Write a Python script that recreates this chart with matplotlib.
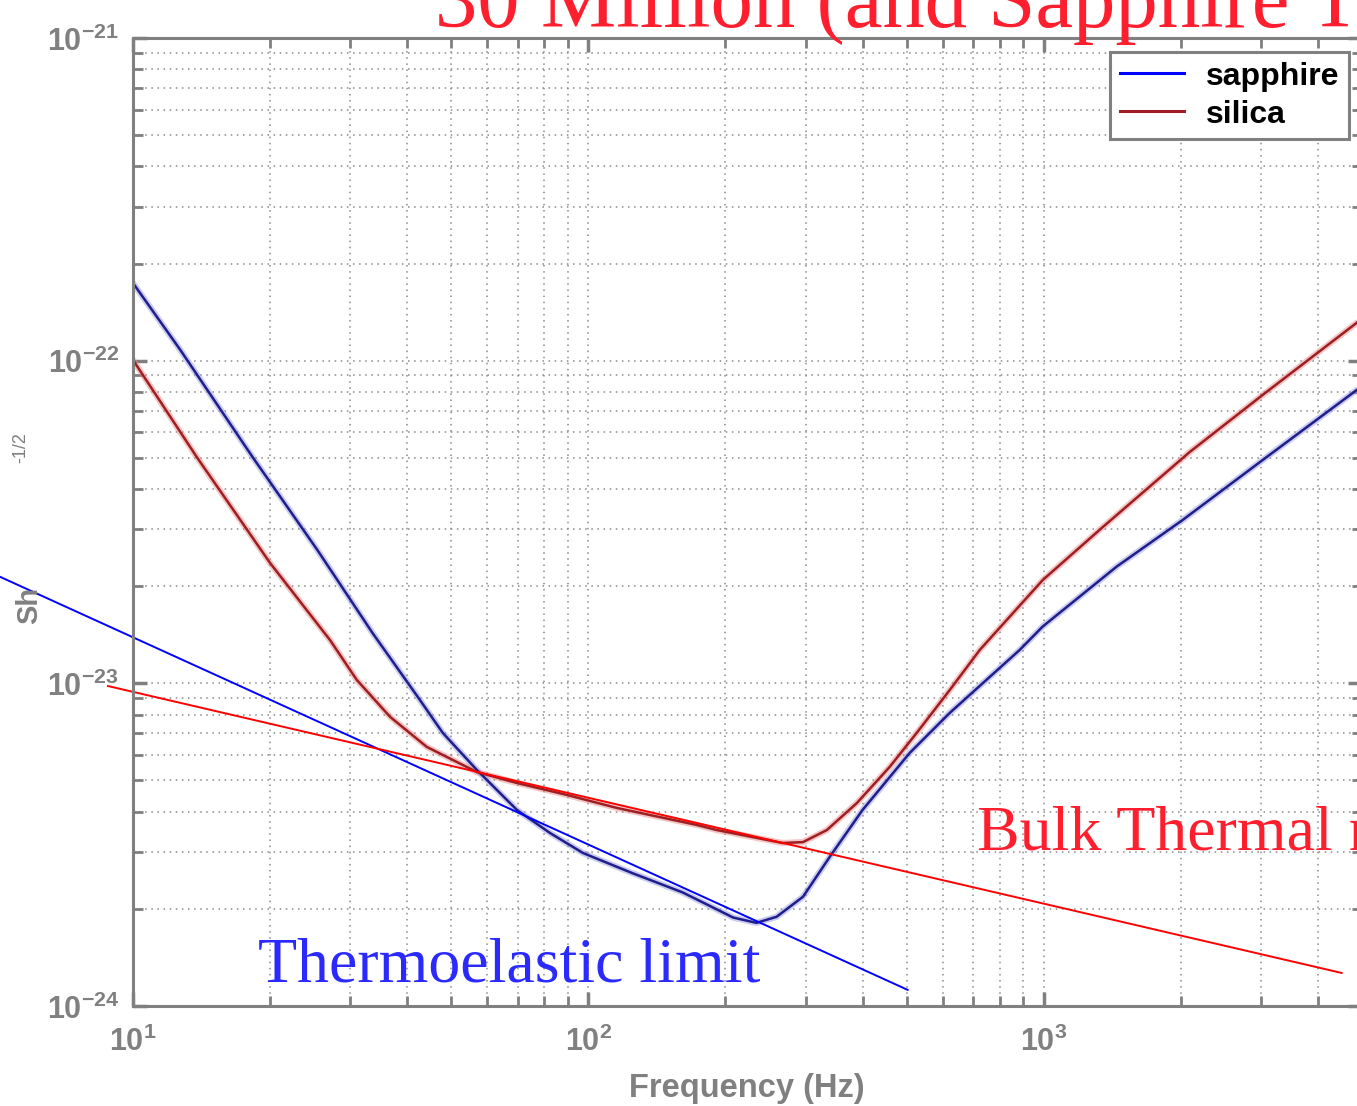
import matplotlib
matplotlib.use("Agg")
import matplotlib.pyplot as plt
from matplotlib.ticker import LogLocator, NullFormatter, FixedLocator, FixedFormatter
from matplotlib.lines import Line2D

plt.rcParams['mathtext.fontset'] = 'custom'
plt.rcParams['mathtext.rm'] = 'Liberation Sans:bold'
plt.rcParams['mathtext.it'] = 'Liberation Sans:bold'
plt.rcParams['mathtext.bf'] = 'Liberation Sans:bold'
plt.rcParams['mathtext.default'] = 'rm'

# ---- data ----
sapphire_f = [10, 12.7, 18.3, 25.4, 33.6, 42.2, 47.9, 56.9, 69.7, 82.3, 97.3, 125, 161,
              208, 234, 259, 296, 339, 400, 508, 622, 886, 995, 1446, 2020, 3025, 4867]
sapphire_s = [1.74e-22, 1.08e-22, 5.03e-23, 2.59e-23, 1.43e-23, 9.08e-24, 7.02e-24, 5.39e-24,
              4.05e-24, 3.44e-24, 2.98e-24, 2.58e-24, 2.25e-24, 1.88e-24, 1.81e-24, 1.89e-24,
              2.18e-24, 2.90e-24, 4.05e-24, 6.09e-24, 8.10e-24, 1.27e-23, 1.50e-23, 2.30e-23,
              3.21e-23, 4.92e-23, 8.11e-23]

silica_f = [10, 13.8, 20.0, 27.1, 31.0, 36.7, 44.2, 56.9, 69.7, 89.7, 115.5, 173, 191.5,
            267, 296, 334, 389, 459, 526, 622, 724, 995, 1348, 2092, 3025, 4867]
silica_s = [1.005e-22, 5.03e-23, 2.36e-23, 1.36e-23, 1.025e-23, 7.87e-24, 6.35e-24, 5.31e-24,
            4.91e-24, 4.51e-24, 4.11e-24, 3.64e-24, 3.51e-24, 3.20e-24, 3.22e-24, 3.51e-24,
            4.26e-24, 5.51e-24, 7.02e-24, 9.54e-24, 1.27e-23, 2.09e-23, 3.05e-23, 5.21e-23,
            7.83e-23, 1.31e-22]

thermoelastic_f = [5.1, 502.6]
thermoelastic_s = [2.14e-23, 1.122e-24]
bulk_f = [8.81, 4511]
bulk_s = [9.81e-24, 1.266e-24]

x_ticks = [10, 100, 1000]
x_ticklabels = [r'$10^{1}$', r'$10^{2}$', r'$10^{3}$']
y_ticks = [1e-24, 1e-23, 1e-22, 1e-21]
y_ticklabels = [r'$10^{-24}$', r'$10^{-23}$', r'$10^{-22}$', r'$10^{-21}$']

series_labels = ['sapphire', 'silica']
title_text = '30 Million (and Sapphire T'
thermo_text = 'Thermoelastic limit'
bulk_text = 'Bulk Thermal noise'

# ---- figure ----
W, H = 1357, 1106
fig = plt.figure(figsize=(W / 100, H / 100), dpi=100)
ax = fig.add_axes([133 / W, 1 - 1006 / H, (1362 - 133) / W, (1006 - 38) / H])
ax.set_xscale('log')
ax.set_yscale('log')
ax.set_xlim(10, 5000)
ax.set_ylim(1e-24, 1e-21)

gray = '#808080'
for sp in ax.spines.values():
    sp.set_color(gray)
    sp.set_linewidth(2.2)

ax.xaxis.set_major_locator(FixedLocator(x_ticks))
ax.xaxis.set_major_formatter(FixedFormatter(x_ticklabels))
ax.yaxis.set_major_locator(FixedLocator(y_ticks))
ax.yaxis.set_major_formatter(FixedFormatter(y_ticklabels))
ax.xaxis.set_minor_locator(LogLocator(base=10, subs=range(2, 10), numticks=20))
ax.yaxis.set_minor_locator(LogLocator(base=10, subs=range(2, 10), numticks=20))
ax.xaxis.set_minor_formatter(NullFormatter())
ax.yaxis.set_minor_formatter(NullFormatter())

ax.tick_params(which='both', direction='in', top=True, right=True, color=gray)
ax.tick_params(which='major', length=10, width=2.5, labelsize=22, labelcolor=gray)
ax.tick_params(axis='x', which='major', pad=14)
ax.tick_params(axis='y', which='major', pad=10)
ax.tick_params(which='minor', length=7, width=2)

ax.grid(True, which='both', linestyle=(0, (1, 3)), color='#8a8a8a', linewidth=1.1)
ax.set_axisbelow(True)

# curves with light halo
ax.plot(sapphire_f, sapphire_s, color='#8c8cdc', lw=4.5, alpha=0.45, solid_capstyle='round')
ax.plot(silica_f, silica_s, color='#e88080', lw=4.5, alpha=0.45, solid_capstyle='round')
ax.plot(sapphire_f, sapphire_s, color='#1e1e8c', lw=1.8, label=series_labels[0])
ax.plot(silica_f, silica_s, color='#9e1e22', lw=1.8, label=series_labels[1])

# reference lines (extend outside axes)
ax.plot(thermoelastic_f, thermoelastic_s, color='#0000ff', lw=1.4, clip_on=False)
ax.plot(bulk_f, bulk_s, color='#ff0000', lw=1.4, clip_on=False)

# legend
h1 = Line2D([], [], color='#0000ff', lw=2.2)
h2 = Line2D([], [], color='#a01c28', lw=2.2)
leg = fig.legend([h1, h2], series_labels, loc='upper right',
                 bbox_to_anchor=(1349 / W, 1 - 52 / H), fancybox=False, framealpha=1,
                 edgecolor=gray, prop={'family': 'Liberation Sans', 'weight': 'bold', 'size': 23},
                 handlelength=2.0, handletextpad=0.7, labelspacing=0.25, borderpad=0.3,
                 borderaxespad=0)
leg.get_frame().set_linewidth(2.2)

# axis labels
fig.text(747 / W, 1 - 1088 / H, 'Frequency (Hz)', ha='center', va='center',
         family='Liberation Sans', weight='bold', size=23.5, color=gray)
fig.text(29 / W, 1 - 605 / H, 'Sh', ha='center', va='center', rotation=90,
         family='Liberation Sans', weight='bold', size=21, color=gray)
fig.text(21 / W, 1 - 448 / H, '-1/2', ha='center', va='center', rotation=90,
         family='Liberation Sans', size=13, color=gray)

# overlay annotations (cut off at the edges, as in the original slide)
serif = ['Liberation Serif', 'DejaVu Serif']
fig.text(435 / W, 1 - 27 / H, title_text, ha='left', va='baseline',
         family=serif, size=61, color='#ff1e2e')
fig.text(258 / W, 1 - 982 / H, thermo_text, ha='left', va='baseline',
         family=serif, size=46, color='#2a2aff')
fig.text(977 / W, 1 - 850 / H, bulk_text, ha='left', va='baseline',
         family=serif, size=46, color='#ff1e2e')

fig.savefig('out.png', dpi=100)
